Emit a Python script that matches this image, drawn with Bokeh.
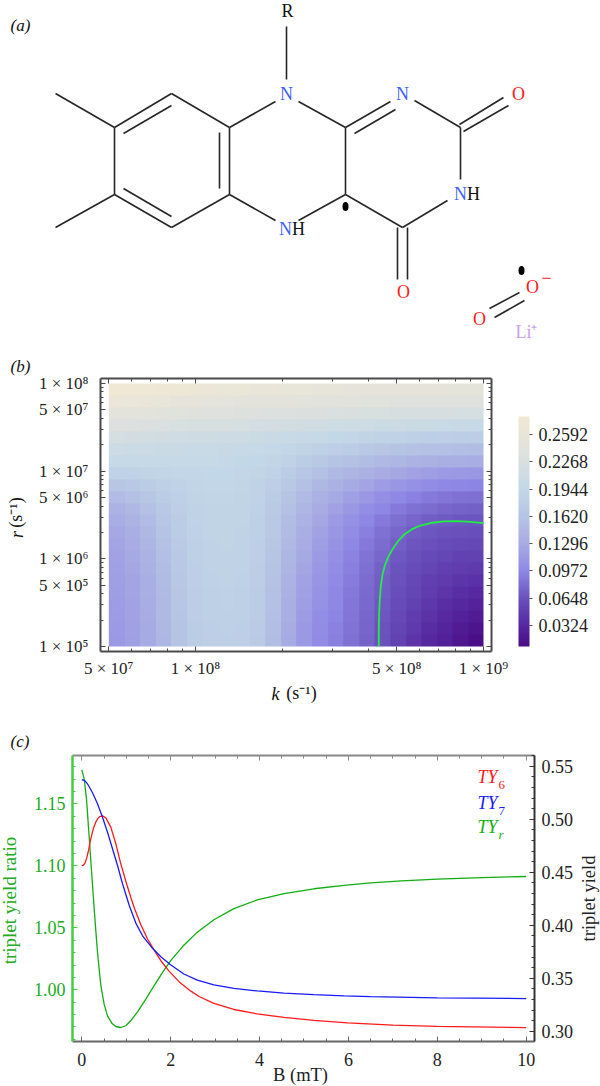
import math
import numpy as np
from bokeh.document import Document
from bokeh.plotting import figure
from bokeh.embed import file_html
from bokeh.resources import INLINE
from bokeh.core.properties import value
from bokeh.models import (Range1d, LinearAxis, LogAxis, FixedTicker,
                          LinearColorMapper, ColorBar, PrintfTickFormatter)

SERIF = "Liberation Serif"

# ---------- (a) molecule: page-pixel layout
bond_x0 = [55,114,171,229,229,171,114,55,123,123,219,286,229,298,229,298,345,345,354,414,460,459,463,447,345,397,407,489,494]
bond_y0 = [93,127,93,127,194,227,194,227,133,188,132,26,127,101,194,220,127,127,133,100,127,124,131,200,194,227,227,308,317]
bond_x1 = [114,171,229,229,171,114,114,114,171,171,219,286,275,345,275,345,345,390,395,460,460,503,508,402,402,397,407,519,524]
bond_y1 = [127,93,127,194,227,194,127,194,105,216,188,79,101,127,220,194,194,101,109,127,179,97,105,227,227,279,279,292,300]
atom_text = ["R","N","N","N","H","N","H","O","O","O","O","−","Li⁺"]
atom_x = [287,286,402,285,298,460,473,518,403,532,479,546,526]
atom_y = [10,93,93,228,228,193,193,93,291,286,318,277,331]
atom_color = ["#111111","#4060ff","#4060ff","#4060ff","#111111","#4060ff","#111111",
              "#ff2020","#ff2020","#ff2020","#ff2020","#ff2020","#c8a0f0"]
dot_x = [345,521]
dot_y = [206,270]

# texts that sit outside every plot frame
note_text = ["(a)","(b)","(c)"]
note_x = [10,10,10]
note_y = [25,366,741]
k_label_text = ["k","(s⁻¹)"]
k_label_x = [275,301]
k_label_y = [693,692]
k_label_style = ["italic","normal"]
r_label_text = ["r","(s⁻¹)"]
r_label_x = [16,15]
r_label_y = [534,512]
r_label_style = ["italic","normal"]

# ---------- (b) heat map, rows bottom to top
k_low, k_high = 5e7, 1e9
r_low, r_high = 1e5, 1e8
yield_grid = [
 [.113,.118,.128,.145,.162,.175,.179,.180,.179,.172,.152,.128,.112,.100,.092,.084,.075,.064,.052,.042,.033,.025,.016,.008],
 [.114,.119,.129,.146,.163,.176,.180,.181,.180,.173,.154,.130,.113,.101,.093,.085,.076,.066,.055,.046,.037,.029,.021,.014],
 [.115,.120,.130,.147,.164,.177,.181,.182,.181,.174,.155,.132,.115,.103,.095,.086,.077,.068,.058,.049,.041,.034,.027,.021],
 [.116,.121,.131,.148,.165,.177,.182,.183,.181,.175,.157,.134,.117,.105,.096,.087,.078,.069,.060,.052,.045,.038,.032,.028],
 [.117,.122,.132,.149,.166,.178,.182,.183,.182,.176,.158,.136,.119,.107,.097,.088,.079,.071,.062,.055,.048,.043,.038,.034],
 [.118,.123,.134,.151,.167,.179,.183,.184,.183,.177,.160,.138,.121,.109,.099,.090,.081,.072,.064,.057,.051,.047,.043,.040],
 [.119,.125,.136,.153,.169,.180,.184,.185,.184,.178,.162,.141,.124,.111,.101,.092,.083,.074,.066,.060,.055,.051,.048,.046],
 [.120,.127,.138,.155,.170,.181,.185,.186,.185,.179,.164,.144,.127,.114,.104,.094,.085,.077,.069,.063,.059,.056,.053,.052],
 [.122,.130,.141,.158,.172,.182,.186,.187,.186,.180,.166,.147,.130,.117,.107,.097,.088,.080,.073,.067,.063,.060,.058,.057],
 [.126,.134,.146,.161,.174,.183,.187,.187,.186,.181,.168,.150,.134,.121,.110,.101,.092,.084,.077,.071,.068,.065,.063,.062],
 [.131,.139,.150,.165,.176,.184,.187,.188,.187,.182,.170,.153,.138,.125,.114,.105,.097,.089,.082,.076,.072,.070,.068,.067],
 [.138,.146,.156,.169,.179,.185,.188,.188,.187,.183,.172,.157,.143,.130,.120,.111,.103,.096,.089,.084,.080,.077,.075,.074],
 [.150,.156,.165,.175,.182,.187,.189,.189,.188,.184,.175,.162,.149,.137,.127,.118,.111,.104,.098,.093,.089,.086,.084,.083],
 [.166,.170,.175,.181,.186,.189,.191,.191,.189,.186,.179,.168,.156,.146,.137,.129,.122,.116,.110,.105,.101,.098,.096,.095],
 [.184,.185,.187,.189,.191,.192,.193,.193,.191,.189,.184,.175,.165,.156,.148,.142,.136,.130,.125,.120,.117,.114,.112,.111],
 [.197,.197,.197,.197,.197,.197,.197,.196,.195,.193,.189,.184,.176,.169,.163,.157,.152,.147,.143,.139,.136,.134,.132,.131],
 [.207,.206,.205,.204,.203,.202,.202,.201,.200,.198,.196,.192,.188,.183,.179,.174,.170,.166,.163,.160,.158,.156,.154,.153],
 [.220,.218,.216,.214,.212,.210,.209,.208,.207,.206,.204,.202,.200,.197,.194,.191,.188,.186,.184,.182,.180,.179,.178,.177],
 [.234,.232,.230,.228,.226,.224,.222,.221,.220,.219,.218,.216,.214,.213,.211,.209,.207,.206,.205,.204,.203,.202,.201,.200],
 [.250,.248,.246,.243,.241,.239,.237,.236,.235,.234,.233,.232,.231,.230,.229,.227,.226,.225,.224,.223,.222,.221,.220,.220],
 [.266,.264,.262,.259,.256,.254,.252,.251,.250,.249,.248,.247,.246,.245,.244,.243,.242,.241,.240,.240,.239,.239,.238,.238],
 [.280,.279,.277,.274,.271,.268,.266,.264,.263,.262,.261,.260,.259,.258,.257,.256,.255,.255,.254,.254,.253,.253,.252,.252],
]
contour_k = [4.33e8,4.33e8,4.34e8,4.365e8,4.40e8,4.46e8,4.54e8,4.66e8,4.82e8,5.04e8,5.29e8,5.65e8,6.04e8,6.64e8,7.28e8,8.1e8,9.02e8,1e9]
contour_r = [1e5,1.51e5,2.34e5,3.47e5,4.92e5,6.57e5,8.32e5,1.04e6,1.27e6,1.58e6,1.88e6,2.18e6,2.40e6,2.58e6,2.67e6,2.69e6,2.64e6,2.55e6]
k_ticks = [5e7,1e8,5e8,1e9]
k_labels = ["5 × 10⁷","1 × 10⁸","5 × 10⁸","1 × 10⁹"]
k_minor = [6e7,7e7,8e7,9e7,2e8,3e8,4e8,6e8,7e8,8e8,9e8]
r_ticks = [1e5,5e5,1e6,5e6,1e7,5e7,1e8]
r_labels = ["1 × 10⁵","5 × 10⁵","1 × 10⁶","5 × 10⁶","1 × 10⁷","5 × 10⁷","1 × 10⁸"]
r_minor = [2e5,3e5,4e5,6e5,7e5,8e5,9e5,2e6,3e6,4e6,6e6,7e6,8e6,9e6,2e7,3e7,4e7,6e7,7e7,8e7,9e7]
bar_ticks = [0.0324,0.0648,0.0972,0.1296,0.1620,0.1944,0.2268,0.2592]
bar_low, bar_high = 0.0074, 0.2806
bar_stops = [(0.0074,"#4a0e86"),(0.0324,"#5628a0"),(0.0648,"#6a52bd"),(0.0972,"#8f88e5"),
             (0.1296,"#a8ace3"),(0.1620,"#b6c4e4"),(0.1944,"#c3d8e7"),(0.2268,"#d9dfdf"),
             (0.2592,"#e8e5d9"),(0.2806,"#f0e8d4")]

# ---------- (c) curves
green_b = [0,.054,.106,.151,.189,.225,.257,.302,.354,.428,.505,.579,.676,.766,.878,.991,1.104,1.255,1.441,1.631,1.818,2.005,2.297,2.599,2.973,3.423,3.95,4.55,5.225,5.9,6.5,7.2,8.0,9.0,10.0]
green_ratio = [1.1774,1.1702,1.154,1.131,1.1115,1.093,1.0765,1.054,1.03,1.0035,.988,.979,.9731,.9704,.9696,.971,.9752,.9822,.9925,1.0035,1.014,1.0238,1.036,1.0465,1.0565,1.0655,1.0725,1.0775,1.0815,1.0843,1.0862,1.0878,1.0892,1.0905,1.0914]
blue_b = [0,.04,.077,.115,.151,.241,.354,.466,.579,.691,.804,.917,1.068,1.216,1.367,1.592,1.779,1.998,2.297,2.599,2.973,3.423,3.95,4.55,5.225,5.9,6.5,8.0,10.0]
blue_y = [.5372,.537,.536,.534,.5318,.525,.5145,.5019,.4877,.4721,.4563,.4391,.4186,.402,.39,.3782,.3703,.3627,.354,.3482,.3437,.3405,.338,.336,.3345,.3334,.3327,.3315,.3308]
red_b = [0,.04,.077,.115,.151,.19,.225,.27,.315,.36,.405,.466,.541,.653,.766,.878,.991,1.104,1.18,1.329,1.48,1.631,1.779,1.968,2.194,2.455,2.65,2.973,3.423,3.95,4.55,5.225,5.984,7.0,7.982,10.0]
red_y = [.4563,.4567,.459,.464,.4705,.479,.4855,.4925,.4972,.5005,.5025,.5032,.5013,.4925,.4768,.4579,.4415,.4262,.4165,.4005,.387,.3762,.3665,.3565,.3465,.3378,.3325,.3262,.3205,.3163,.313,.3102,.3079,.3058,.3046,.3033]
b_ticks = [0,2,4,6,8,10]
b_minor = [.5,1,1.5,2.5,3,3.5,4.5,5,5.5,6.5,7,7.5,8.5,9,9.5]
ratio_ticks = [1.00,1.05,1.10,1.15]
ratio_minor = [.96,.97,.98,.99,1.01,1.02,1.03,1.04,1.06,1.07,1.08,1.09,1.11,1.12,1.13,1.14,1.16,1.17,1.18]
ty_ticks = [.30,.35,.40,.45,.50,.55]
ty_minor = [.29,.31,.32,.33,.34,.36,.37,.38,.39,.41,.42,.43,.44,.46,.47,.48,.49,.51,.52,.53,.54,.56]
legend_main = ["TY","TY","TY"]
legend_sub = ["6","7","r"]
legend_color = ["#ff1a1a","#1a1aff","#12ad12"]
legend_y = [776,802,826]


def lerp_palette(stops, n=256):
    out = []
    lo, hi = stops[0][0], stops[-1][0]
    for i in range(n):
        v = lo + (hi - lo) * i / (n - 1)
        for (a, ca), (b, cb) in zip(stops, stops[1:]):
            if v <= b + 1e-12:
                t = (v - a) / (b - a)
                rgb = [round(int(ca[j:j+2],16)*(1-t) + int(cb[j:j+2],16)*t) for j in (1,3,5)]
                out.append("#%02x%02x%02x" % tuple(rgb))
                break
    return out


def style_axis(ax, color, size=17, label_color="#222222", blank_ticks=None, standoff=10):
    ax.axis_line_color = color
    ax.axis_line_width = 2
    ax.major_tick_line_color = color
    ax.minor_tick_line_color = color
    ax.major_tick_in, ax.major_tick_out = 5, 0
    ax.minor_tick_in, ax.minor_tick_out = 3, 0
    ax.major_label_text_font = SERIF
    ax.major_label_text_font_size = f"{size}px"
    ax.major_label_text_color = label_color
    ax.major_label_standoff = standoff
    if blank_ticks is not None:
        ax.major_label_overrides = {t: "" for t in blank_ticks}
        ax.major_label_standoff = 0


# ---------- panel b
B_L, B_T, B_R, B_B = 100, 378, 491, 651
xdec, ydec = 288.0, 87.7
pb = figure(width=600, height=370, x_axis_type="log", y_axis_type="log",
            x_range=Range1d(k_low * 10 ** (-(108.3 - B_L) / xdec), k_high * 10 ** ((B_R - 483) / xdec)),
            y_range=Range1d(r_low * 10 ** (-(B_B - 646) / ydec), r_high * 10 ** ((383 - B_T) / ydec)),
            output_backend="svg", toolbar_location=None, margin=(350,0,0,0),
            min_border_left=B_L, min_border_right=600 - B_R, min_border_top=B_T - 350, min_border_bottom=720 - B_B)
pb.grid.visible = False
pb.outline_line_color = None
mapper = LinearColorMapper(palette=lerp_palette(bar_stops), low=bar_low, high=bar_high)
pb.image(image=[np.array(yield_grid)], x=k_low, y=r_low, dw=k_high - k_low, dh=r_high - r_low, color_mapper=mapper)
pb.line(contour_k, contour_r, line_color="#22ee44", line_width=1.8)
for ax, tick, minor, ov, so in [(pb.xaxis[0], k_ticks, k_minor, dict(zip(k_ticks, k_labels)), 7),
                                (pb.yaxis[0], r_ticks, r_minor, dict(zip(r_ticks, r_labels)), 12)]:
    ax.ticker = FixedTicker(ticks=tick, minor_ticks=minor)
    ax.major_label_overrides = ov
    style_axis(ax, "#4a4a4a", standoff=so)
top = LogAxis(ticker=FixedTicker(ticks=k_ticks, minor_ticks=k_minor)); style_axis(top, "#4a4a4a", blank_ticks=k_ticks)
right = LogAxis(ticker=FixedTicker(ticks=r_ticks, minor_ticks=r_minor)); style_axis(right, "#4a4a4a", blank_ticks=r_ticks)
pb.add_layout(top, "above"); pb.add_layout(right, "right")
cb = ColorBar(color_mapper=mapper, ticker=FixedTicker(ticks=bar_ticks), width=11, height=230,
              location=(518 - B_L, B_B - 646), padding=0, margin=0, bar_line_color=None,
              major_tick_line_color="#555555", major_tick_in=0, major_tick_out=3, minor_tick_line_color=None,
              major_label_text_font=SERIF, major_label_text_font_size="18px", major_label_text_color="#222222",
              label_standoff=6, background_fill_color=None, border_line_color=None,
              formatter=PrintfTickFormatter(format="%.4f"))
pb.add_layout(cb, "center")

# ---------- panel c
C_L, C_T, C_R, C_B = 72, 755, 534, 1041
pc = figure(width=600, height=366,
            x_range=Range1d(-0.209, 10.187), y_range=Range1d(0.9583, 1.1890),
            output_backend="svg", toolbar_location=None,
            min_border_left=C_L, min_border_right=600 - C_R, min_border_top=C_T - 720, min_border_bottom=1086 - C_B)
pc.extra_y_ranges = {"ty": Range1d(0.2903, 0.5601)}
pc.grid.visible = False
pc.outline_line_color = None
pc.line(green_b, green_ratio, line_color="#12ad12", line_width=1.3)
pc.line(red_b, red_y, y_range_name="ty", line_color="#ff1a1a", line_width=1.3)
pc.line(blue_b, blue_y, y_range_name="ty", line_color="#1a1aff", line_width=1.3)
xa = pc.xaxis[0]
xa.ticker = FixedTicker(ticks=b_ticks, minor_ticks=b_minor)
style_axis(xa, "#666666", size=18, standoff=11)
ya = pc.yaxis[0]
ya.ticker = FixedTicker(ticks=ratio_ticks, minor_ticks=ratio_minor)
ya.formatter = PrintfTickFormatter(format="%.2f")
style_axis(ya, "#44cc44", size=18, label_color="#22aa22", standoff=7)
ya.axis_line_width = 2.5
ra = LinearAxis(y_range_name="ty", ticker=FixedTicker(ticks=ty_ticks, minor_ticks=ty_minor),
                formatter=PrintfTickFormatter(format="%.2f"))
style_axis(ra, "#333333", size=18, standoff=7)
pc.add_layout(ra, "right")
ta = LinearAxis(ticker=FixedTicker(ticks=b_ticks, minor_ticks=b_minor)); style_axis(ta, "#888888", blank_ticks=b_ticks)
pc.add_layout(ta, "above")

# ---------- panel a + texts outside frames: a transparent page-size figure laid over the others
pa = figure(width=600, height=1086, x_range=Range1d(0,600), y_range=Range1d(1086,0),
            output_backend="svg", toolbar_location=None, min_border=0, margin=(-1086,0,0,0),
            background_fill_color=None, border_fill_color=None)
pa.axis.visible = False
pa.grid.visible = False
pa.outline_line_color = None
pa.segment(bond_x0, bond_y0, bond_x1, bond_y1, line_color="#262626", line_width=1.6)
pa.text(atom_x, atom_y, text=atom_text, text_color=atom_color, text_font=value(SERIF),
        text_font_size="18px", text_align="center", text_baseline="middle")
pa.ellipse(dot_x, dot_y, width=6, height=9, fill_color="black", line_color=None)
pa.text(note_x, note_y, text=note_text, text_font=value(SERIF), text_font_size="17px", text_font_style="italic",
        text_color="#111111", text_align="left", text_baseline="middle")
for t, x, y, s in zip(k_label_text, k_label_x, k_label_y, k_label_style):
    pa.text([x], [y], text=[t], text_font=value(SERIF), text_font_size="18px", text_font_style=s,
            text_color="#111111", text_align="center", text_baseline="middle")
for t, x, y, s in zip(r_label_text, r_label_x, r_label_y, r_label_style):
    pa.text([x], [y], text=[t], text_font=value(SERIF), text_font_size="18px", text_font_style=s, angle=math.pi/2,
            text_color="#111111", text_align="center", text_baseline="middle")
pa.text([300], [1074], text=["B (mT)"], text_font=value(SERIF), text_font_size="18.5px",
        text_color="#222222", text_align="center", text_baseline="middle")
pa.text([9], [900], text=["triplet yield ratio"], text_font=value(SERIF), text_font_size="19px", angle=math.pi/2,
        text_color="#22aa22", text_align="center", text_baseline="middle")
pa.text([588], [898], text=["triplet yield"], text_font=value(SERIF), text_font_size="18.5px", angle=math.pi/2,
        text_color="#222222", text_align="center", text_baseline="middle")
for t, s, c, y in zip(legend_main, legend_sub, legend_color, legend_y):
    pa.text([477], [y], text=[t], text_font=value(SERIF), text_font_size="18px", text_font_style="italic",
            text_color=c, text_align="left", text_baseline="middle")
    pa.text([498], [y + 8], text=[s], text_font=value(SERIF), text_font_size="13px",
            text_font_style="italic" if s == "r" else "normal",
            text_color=c, text_align="left", text_baseline="middle")

doc = Document()
for f in (pb, pc, pa):
    doc.add_root(f)
open("out.html", "w").write(file_html(doc, INLINE))
